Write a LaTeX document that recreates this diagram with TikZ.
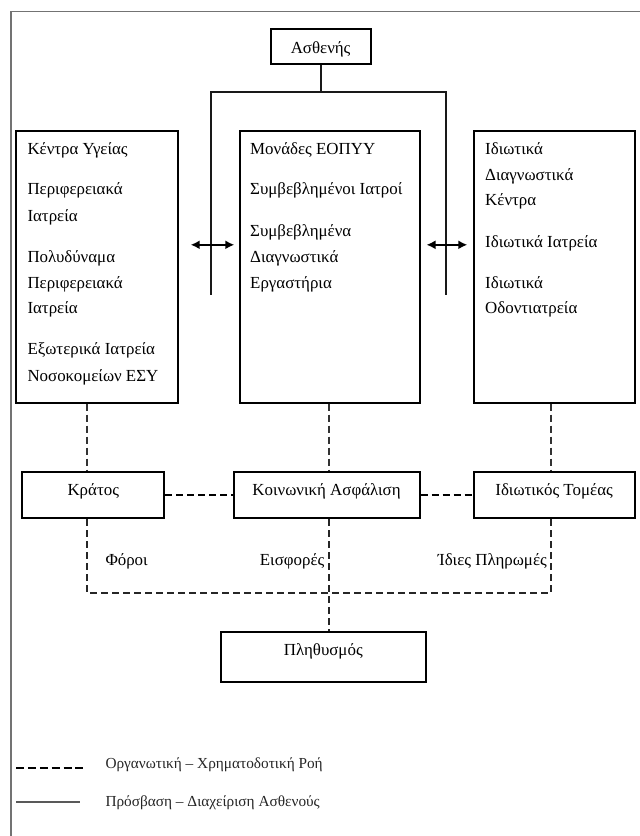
\documentclass[tikz,border=0pt]{standalone}
\usepackage{fontspec}
\setmainfont{Liberation Serif}
\usetikzlibrary{arrows.meta}
\begin{document}
\begin{tikzpicture}[x=1pt,y=-1pt,
  box/.style={draw=black, line width=2pt, inner sep=0pt, font=\fontsize{16.9}{20}\selectfont},
  txt/.style={anchor=base west, inner sep=0pt, font=\fontsize{16.9}{20}\selectfont},
  rtxt/.style={anchor=base east, inner sep=0pt, font=\fontsize{16.9}{20}\selectfont},
  legtxt/.style={anchor=base west, inner sep=0pt, font=\fontsize{15.3}{18}\selectfont, text=black!85},
  solidline/.style={line width=2pt, black!90},
  dashline/.style={line width=2pt, dash pattern=on 7pt off 4pt},
  dbl/.style={line width=2pt, {Latex[length=9pt,width=9pt]}-{Latex[length=9pt,width=9pt]}},
  frameline/.style={line width=1.3pt, black!55}
]
\useasboundingbox (0,0) rectangle (640,836);
\fill[white] (0,0) rectangle (640,836);
% frame
\draw[frameline] (11,836) -- (11,11.5) -- (640,11.5);

% boxes
\node[box, minimum width=100pt, minimum height=35pt, text height=17pt, text depth=3pt] (asth) at (320.6,46) {Ασθενής};
\node[box, minimum width=162.1pt, minimum height=271.9pt] (lbox) at (97.35,266.55) {};
\node[box, minimum width=180pt, minimum height=271.9pt] (mbox) at (329.6,266.55) {};
\node[box, minimum width=161.2pt, minimum height=271.9pt] (rbox) at (554.1,266.55) {};
\node[box, minimum width=141.7pt, minimum height=46.8pt, text height=11pt, text depth=9.8pt] (kratos) at (93.25,494.9) {Κράτος};
\node[box, minimum width=186.1pt, minimum height=46.8pt, text height=11pt, text depth=9.8pt] (ka) at (326.55,494.9) {Κοινωνική Ασφάλιση};
\node[box, minimum width=161.2pt, minimum height=46.8pt, text height=11pt, text depth=9.8pt] (it) at (554.1,494.9) {Ιδιωτικός Τομέας};
\node[box, minimum width=204.9pt, minimum height=50pt, text height=10pt, text depth=12.4pt] (pleth) at (323.25,656.7) {Πληθυσμός};

% left box text
\node[txt] (l1) at (27.3,154.8) {Κέντρα Υγείας};
\node[txt] (l2) at (27.3,194.8) {Περιφερειακά};
\node[txt] (l3) at (27.3,221.5) {Ιατρεία};
\node[txt] (l4) at (27.3,262.5) {Πολυδύναμα};
\node[txt] (l5) at (27.3,288.1) {Περιφερειακά};
\node[txt] (l6) at (27.3,313.7) {Ιατρεία};
\node[txt] (l7) at (27.3,354.7) {Εξωτερικά Ιατρεία};
\node[txt] (l8) at (27.3,381.4) {Νοσοκομείων ΕΣΥ};
% middle box text
\node[txt] (m1) at (250,154.8) {Μονάδες ΕΟΠΥΥ};
\node[txt] (m2) at (250,194.8) {Συμβεβλημένοι Ιατροί};
\node[txt] (m3) at (250,236.4) {Συμβεβλημένα};
\node[txt] (m4) at (250,262.5) {Διαγνωστικά};
\node[txt] (m5) at (250,288.1) {Εργαστήρια};
% right box text
\node[txt] (r1) at (485,154.8) {Ιδιωτικά};
\node[txt] (r2) at (485,180.4) {Διαγνωστικά};
\node[txt] (r3) at (485,205.5) {Κέντρα};
\node[txt] (r4) at (485,247) {Ιδιωτικά Ιατρεία};
\node[txt] (r5) at (485,288.1) {Ιδιωτικά};
\node[txt] (r6) at (485,313.7) {Οδοντιατρεία};

% patient access connectors
\coordinate (tee) at (320.6,92.2);
\coordinate (tl) at (211,92.2);
\coordinate (tr) at (446,92.2);
\coordinate (bl) at (211,294.5);
\coordinate (br) at (446,294.5);
\draw[solidline] (asth.south) -- (tee);
\draw[solidline] (bl) -- (tl) -- (tr) -- (br);
\coordinate (al1) at (190.7,244.8);
\coordinate (al2) at (234.3,244.8);
\coordinate (ar1) at (426.5,244.8);
\coordinate (ar2) at (467.3,244.8);
\draw[dbl] (al1) -- (al2);
\draw[dbl] (ar1) -- (ar2);

% financing connectors
\coordinate (dl) at (86.5,0);
\coordinate (dm) at (328.6,0);
\coordinate (dr) at (551,0);
\coordinate (bus) at (0,592.7);
\draw[dashline, black!80] (lbox.south -| dl) -- (kratos.north -| dl);
\draw[dashline, black!80] (mbox.south -| dm) -- (ka.north -| dm);
\draw[dashline, black!80] (rbox.south -| dr) -- (it.north -| dr);
\draw[dashline] (kratos.east) -- (ka.west);
\draw[dashline] (ka.east) -- (it.west);
\draw[dashline, black!85] (kratos.south -| dl) -- (dl |- bus) -- (dr |- bus) -- (it.south -| dr);
\draw[dashline, black!85] (ka.south -| dm) -- (pleth.north -| dm);

% flow labels
\node[txt] (foroi) at (105.3,565.5) {Φόροι};
\node[rtxt] (eisf) at (324.5,565.5) {Εισφορές};
\node[rtxt] (idies) at (547,565.5) {Ίδιες Πληρωμές};

% legend
\coordinate (ld1) at (16.3,768);
\coordinate (ld2) at (83.7,768);
\coordinate (ls1) at (16.3,802);
\coordinate (ls2) at (80.4,802);
\draw[line width=2pt, dash pattern=on 8pt off 3.8pt] (ld1) -- (ld2);
\draw[line width=1.6pt, black!65] (ls1) -- (ls2);
\node[legtxt] (leg1) at (105.3,768.5) {Οργανωτική – Χρηματοδοτική Ροή};
\node[legtxt] (leg2) at (105.3,806.5) {Πρόσβαση – Διαχείριση Ασθενούς};
\end{tikzpicture}
\end{document}
